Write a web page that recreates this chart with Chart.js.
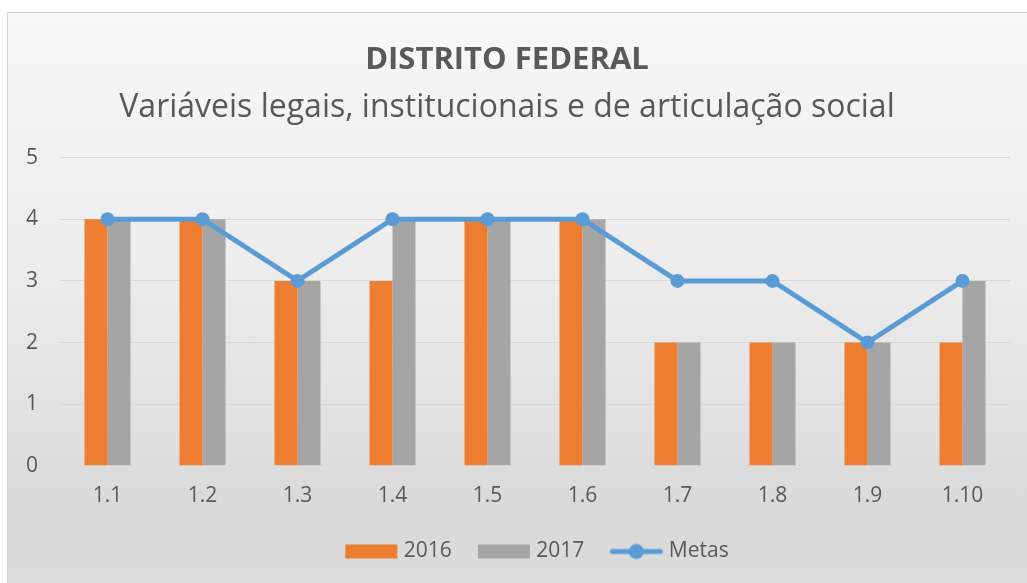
<!DOCTYPE html>
<html>
<head>
<meta charset="utf-8">
<script src="https://cdn.jsdelivr.net/npm/chart.js@4"></script>
<style>
  html, body { margin: 0; padding: 0; background: #fff; overflow: hidden; }
  #frame {
    position: absolute; left: 7px; top: 12px; width: 1040px; height: 590px;
    border: 1px solid #d6d6d6;
    background: linear-gradient(#f8f8f8 0%, #ececec 45%, #d9d9d9 85%, #dcdcdc 100%);
  }
  #wrap { position: absolute; left: 0; top: 0; width: 1027px; height: 583px; }
</style>
</head>
<body>
<div id="frame"></div>
<div id="wrap"><canvas id="myChart"></canvas></div>
<script>
const chart = document.getElementById("myChart")

const categories = ['1.1', '1.2', '1.3', '1.4', '1.5', '1.6', '1.7', '1.8', '1.9', '1.10']
const values2016 = [4, 4, 3, 3, 4, 4, 2, 2, 2, 2]
const values2017 = [4, 4, 3, 4, 4, 4, 2, 2, 2, 3]
const metas = [4, 4, 3, 4, 4, 4, 3, 3, 2, 3]

const orange = '#ed7d31'
const gray = '#a5a5a5'
const blue = '#5b9bd5'
const textColor = '#595959'
const fontFamily = "'Open Sans', sans-serif"

// little pictures for the legend keys (shifted right so the text sits close)
function keyBox(color) {
  const c = document.createElement('canvas')
  c.width = 64; c.height = 18
  const ctx = c.getContext('2d')
  ctx.fillStyle = color
  ctx.fillRect(10, 2, 52, 14)
  return c
}
function keyLine(color) {
  const c = document.createElement('canvas')
  c.width = 64; c.height = 18
  const ctx = c.getContext('2d')
  ctx.strokeStyle = color
  ctx.lineWidth = 5
  ctx.lineCap = 'round'
  ctx.beginPath(); ctx.moveTo(12, 9); ctx.lineTo(60, 9); ctx.stroke()
  ctx.fillStyle = color
  ctx.beginPath(); ctx.arc(36, 9, 7.5, 0, Math.PI * 2); ctx.fill()
  return c
}
const keys = { '2016': keyBox(orange), '2017': keyBox(gray), 'Metas': keyLine(blue) }
const legendOrder = ['2016', '2017', 'Metas']

const myData = {
  labels: categories,
  datasets: [{
    type: 'line',
    label: 'Metas',
    data: metas,
    borderColor: blue,
    backgroundColor: blue,
    borderWidth: 5,
    pointRadius: 7,
    pointHoverRadius: 7,
    pointBackgroundColor: blue,
    pointBorderWidth: 0,
    tension: 0,
    order: 0
  }, {
    label: '2016',
    data: values2016,
    backgroundColor: orange,
    categoryPercentage: 0.484,
    barPercentage: 1,
    order: 1
  }, {
    label: '2017',
    data: values2017,
    backgroundColor: gray,
    categoryPercentage: 0.484,
    barPercentage: 1,
    order: 1
  }]
};

const myConfig = {
  type: 'bar',
  data: myData,
  options: {
    responsive: true,
    maintainAspectRatio: false,
    animation: false,
    layout: { padding: { left: 4, right: 17, top: 42, bottom: 11 } },
    scales: {
      x: {
        grid: { display: false },
        border: { display: false },
        ticks: { color: textColor, font: { family: fontFamily, size: 21 }, padding: 10 }
      },
      y: {
        min: 0, max: 5,
        ticks: { stepSize: 1, color: textColor, font: { family: fontFamily, size: 21 }, padding: 22 },
        grid: { color: '#d9d9d9', lineWidth: 1, drawTicks: false },
        border: { display: false }
      }
    },
    plugins: {
      title: {
        display: true,
        text: 'DISTRITO FEDERAL',
        color: textColor,
        font: { family: fontFamily, size: 31, weight: 'bold' },
        padding: { top: 0, bottom: 9 }
      },
      subtitle: {
        display: true,
        text: 'Variáveis legais, institucionais e de articulação social',
        color: textColor,
        font: { family: fontFamily, size: 32, weight: 'normal' },
        padding: { top: 0, bottom: 31 }
      },
      legend: {
        position: 'bottom',
        fullSize: false,
        labels: {
          color: textColor,
          font: { family: fontFamily, size: 21 },
          usePointStyle: true,
          pointStyleWidth: 52,
          padding: 22,
          sort: (a, b) => legendOrder.indexOf(a.text) - legendOrder.indexOf(b.text),
          generateLabels: (ch) => {
            const items = Chart.defaults.plugins.legend.labels.generateLabels(ch)
            items.forEach(it => { it.pointStyle = keys[it.text] })
            return items
          }
        }
      },
      tooltip: { enabled: false }
    }
  }
};

new Chart(chart, myConfig);
</script>
</body>
</html>
